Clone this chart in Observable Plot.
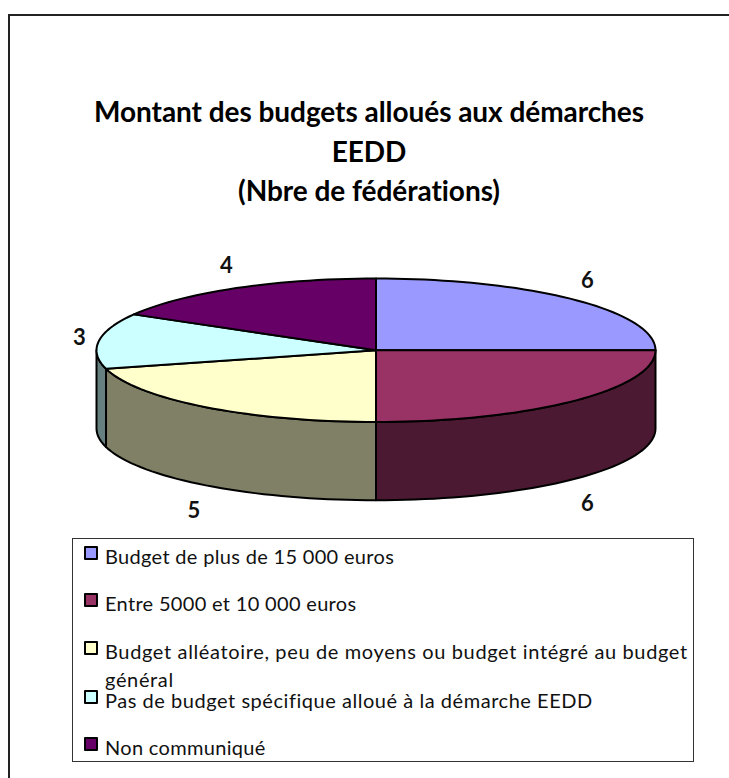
<!DOCTYPE html>
<html lang="fr"><head><meta charset="utf-8">
<script src="https://cdn.jsdelivr.net/npm/d3@7"></script>
<script src="https://cdn.jsdelivr.net/npm/@observablehq/plot@0.6"></script>
<style>
html,body{margin:0;padding:0;background:#fff;width:729px;height:778px;overflow:hidden}
#frame{position:absolute;left:8px;top:14px;width:740px;height:800px;border:2px solid #222;box-sizing:border-box}
#title{position:absolute;left:0;top:92px;width:738px;text-align:center;font:bold 28px/39.5px Lato,sans-serif;color:#000;letter-spacing:-.05px}
#chart{position:absolute;left:0;top:250px}
#legend{position:absolute;left:72px;top:538px;width:622px;height:224px;border:1px solid #333;box-sizing:border-box;font:20px/24px Lato,sans-serif;color:#111;letter-spacing:.32px;font-variant-ligatures:none}
.it{position:absolute;left:32px;white-space:nowrap}
.sw{position:absolute;left:-21px;top:2px;width:14px;height:14px;border:2px solid #000;box-sizing:border-box;border-radius:1px}
.wrap{line-height:28px;letter-spacing:.64px}
.wrap .sw{top:4px}
.wide{letter-spacing:.54px}
</style></head><body>
<div id="frame"></div>
<div id="title">Montant des budgets alloués aux démarches<br>EEDD<br>(Nbre de fédérations)</div>
<div id="chart"></div>
<div id="legend"></div>
<script>
const categories = ["Budget de plus de 15 000 euros","Entre 5000 et 10 000 euros","Budget alléatoire, peu de moyens ou budget intégré au budget<br>général","Pas de budget spécifique alloué à la démarche EEDD","Non communiqué"];
const values = [6,6,5,3,4];
const topColors = ["#9999ff","#993366","#ffffcc","#ccffff","#660066"];
const sideColors = ["#4c1933","#4c1933","#808066","#668080","#330033"];

const total = d3.sum(values);
const cum = d3.cumsum(values);
const start = i => (i ? cum[i-1] : 0) / total * 360;
const end = i => cum[i] / total * 360;
const rad = d => d * Math.PI / 180;
const ex = a => Math.sin(rad(a));
const ey = a => Math.cos(rad(a));
const depth = 1.09;

function arc(a0, a1){
  const n = Math.max(2, Math.ceil((a1 - a0) / 2));
  return d3.range(n + 1).map(k => a0 + (a1 - a0) * k / n);
}
const tops = values.flatMap((v, i) => {
  const pts = arc(start(i), end(i)).map(a => ({x: ex(a), y: ey(a)}));
  return [{x:0,y:0}, ...pts].map(p => ({...p, z: "t"+i, c: topColors[i]}));
});
const sides = values.flatMap((v, i) => {
  const a0 = Math.max(start(i), 90), a1 = Math.min(end(i), 270);
  if (a1 <= a0) return [];
  const as = arc(a0, a1);
  const up = as.map(a => ({x: ex(a), y: ey(a)}));
  const dn = as.slice().reverse().map(a => ({x: ex(a), y: ey(a) - depth}));
  return [...up, ...dn].map(p => ({...p, z: "s"+i, c: sideColors[i]}));
});
const labels = values.map((v, i) => {
  const m = (start(i) + end(i)) / 2;
  const front = ey(m) < -0.2;
  return {v, x: ex(m) * 1.07, y: front ? ey(m) - depth - 0.35 : ey(m) * 1.36};
});

const chart = Plot.plot({
  width: 729, height: 280,
  marginTop: 0, marginRight: 0, marginBottom: 0, marginLeft: 0,
  x: {domain: [-1, 1], range: [96, 655], axis: null},
  y: {domain: [-1, 1], range: [171.5, 28], axis: null},
  color: {type: "identity"},
  marks: [
    Plot.line(sides, {x: "x", y: "y", z: "z", fill: "c", stroke: "#000", strokeWidth: 2, curve: "linear-closed", strokeLinejoin: "round"}),
    Plot.line(tops, {x: "x", y: "y", z: "z", fill: "c", stroke: "#000", strokeWidth: 2, curve: "linear-closed", strokeLinejoin: "round"}),
    Plot.text(labels, {x: "x", y: "y", text: d => String(d.v), fontFamily: "Lato, sans-serif", fontWeight: 700, fontSize: 22, fill: "#111"})
  ]
});
document.getElementById("chart").appendChild(chart);

const rowTops = [5, 52, 98, 149, 196];
const legend = document.getElementById("legend");
categories.forEach((c, i) => {
  const it = document.createElement("div");
  it.className = "it" + (i === 2 ? " wrap" : i === 3 ? " wide" : "");
  it.style.top = rowTops[i] + "px";
  it.innerHTML = `<span class="sw" style="background:${topColors[i]}"></span>` + c;
  legend.appendChild(it);
});
</script>
</body></html>
